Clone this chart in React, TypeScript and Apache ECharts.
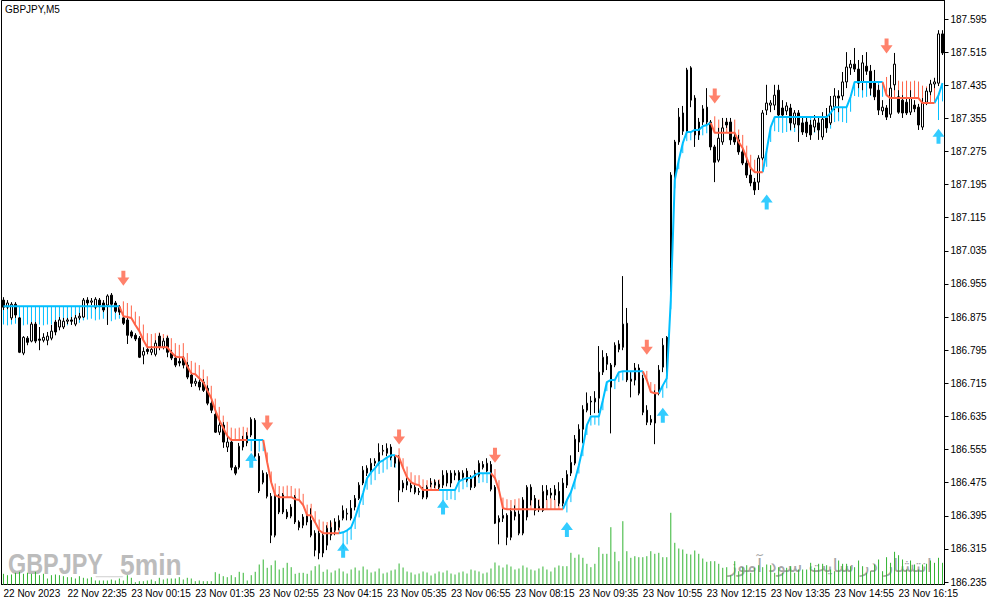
import React, { useEffect, useRef } from "react";
import * as echarts from "echarts";

// GBPJPY M5, 22 Nov 2023 21:15 .. 23 Nov 2023 ~16:50
const tickLabels = [
  "22 Nov 2023", "22 Nov 22:35", "23 Nov 00:15", "23 Nov 01:35", "23 Nov 02:55",
  "23 Nov 04:15", "23 Nov 05:35", "23 Nov 06:55", "23 Nov 08:15", "23 Nov 09:35",
  "23 Nov 10:55", "23 Nov 12:15", "23 Nov 13:35", "23 Nov 14:55", "23 Nov 16:15",
];

const priceTicks = [
  186.235, 186.315, 186.395, 186.475, 186.555, 186.635, 186.715, 186.795, 186.875,
  186.955, 187.035, 187.115, 187.195, 187.275, 187.355, 187.435, 187.515, 187.595,
];

const open = [
  186.916, 186.899, 186.873, 186.906, 186.873, 186.788, 186.824, 186.817, 186.858, 186.822,
  186.819, 186.819, 186.824, 186.863, 186.851, 186.851, 186.865, 186.868, 186.858, 186.873,
  186.875, 186.916, 186.911, 186.899, 186.916, 186.909, 186.904, 186.928, 186.909, 186.899,
  186.873, 186.868, 186.839, 186.831, 186.824, 186.783, 186.797, 186.790, 186.785, 186.829,
  186.802, 186.824, 186.788, 186.776, 186.768, 186.776, 186.759, 186.735, 186.715, 186.718,
  186.718, 186.703, 186.667, 186.640, 186.597, 186.614, 186.561, 186.573, 186.512, 186.512,
  186.561, 186.571, 186.590, 186.626, 186.539, 186.498, 186.495, 186.442, 186.348, 186.404,
  186.445, 186.404, 186.394, 186.440, 186.380, 186.372, 186.396, 186.384, 186.353, 186.353,
  186.305, 186.324, 186.348, 186.360, 186.367, 186.389, 186.399, 186.413, 186.416, 186.437,
  186.474, 186.498, 186.505, 186.522, 186.522, 186.551, 186.546, 186.561, 186.536, 186.536,
  186.462, 186.469, 186.469, 186.464, 186.454, 186.457, 186.440, 186.471, 186.476, 186.471,
  186.469, 186.498, 186.498, 186.498, 186.481, 186.488, 186.503, 186.488, 186.466, 186.493,
  186.519, 186.503, 186.519, 186.464, 186.380, 186.389, 186.396, 186.343, 186.404, 186.399,
  186.353, 186.392, 186.464, 186.437, 186.411, 186.408, 186.457, 186.450, 186.445, 186.454,
  186.425, 186.469, 186.498, 186.522, 186.573, 186.604, 186.650, 186.672, 186.670, 186.679,
  186.742, 186.780, 186.759, 186.759, 186.810, 186.802, 186.860, 186.725, 186.723, 186.752,
  186.727, 186.650, 186.628, 186.619, 186.691, 186.754, 186.826, 186.993, 187.213, 187.298,
  187.368, 187.322, 187.477, 187.404, 187.346, 187.346, 187.382, 187.346, 187.286, 187.254,
  187.298, 187.346, 187.346, 187.310, 187.303, 187.274, 187.247, 187.218, 187.201, 187.201,
  187.259, 187.375, 187.387, 187.387, 187.423, 187.380, 187.373, 187.380, 187.341, 187.368,
  187.344, 187.346, 187.339, 187.334, 187.344, 187.310, 187.356, 187.344, 187.382, 187.409,
  187.409, 187.443, 187.477, 187.486, 187.474, 187.443, 187.481, 187.469, 187.443, 187.423,
  187.373, 187.380, 187.365, 187.436, 187.407, 187.399, 187.394, 187.370, 187.387, 187.382,
  187.334, 187.394, 187.419, 187.438, 187.440, 187.559,
];

const high = [
  186.923, 186.916, 186.911, 186.911, 186.875, 186.829, 186.829, 186.863, 186.863, 186.851,
  186.836, 186.839, 186.856, 186.868, 186.875, 186.873, 186.873, 186.875, 186.880, 186.885,
  186.921, 186.923, 186.921, 186.923, 186.921, 186.916, 186.930, 186.933, 186.914, 186.904,
  186.877, 186.873, 186.843, 186.836, 186.829, 186.802, 186.805, 186.805, 186.819, 186.836,
  186.824, 186.829, 186.795, 186.783, 186.776, 186.780, 186.766, 186.742, 186.727, 186.725,
  186.725, 186.710, 186.674, 186.648, 186.626, 186.621, 186.585, 186.578, 186.517, 186.571,
  186.588, 186.597, 186.633, 186.631, 186.546, 186.505, 186.500, 186.450, 186.447, 186.447,
  186.450, 186.411, 186.423, 186.445, 186.384, 186.399, 186.404, 186.413, 186.360, 186.360,
  186.355, 186.372, 186.384, 186.389, 186.396, 186.420, 186.413, 186.433, 186.445, 186.476,
  186.515, 186.517, 186.534, 186.534, 186.570, 186.566, 186.570, 186.568, 186.541, 186.541,
  186.481, 186.486, 186.476, 186.471, 186.462, 186.464, 186.469, 186.486, 186.483, 186.481,
  186.505, 186.505, 186.505, 186.505, 186.505, 186.505, 186.510, 186.493, 186.505, 186.529,
  186.527, 186.534, 186.527, 186.469, 186.396, 186.413, 186.401, 186.413, 186.420, 186.408,
  186.440, 186.469, 186.471, 186.445, 186.433, 186.469, 186.469, 186.462, 186.469, 186.476,
  186.486, 186.505, 186.541, 186.590, 186.616, 186.662, 186.693, 186.684, 186.696, 186.805,
  186.795, 186.788, 186.764, 186.814, 186.819, 186.974, 186.897, 186.742, 186.764, 186.761,
  186.735, 186.662, 186.638, 186.698, 186.759, 186.824, 186.829, 187.225, 187.303, 187.380,
  187.385, 187.477, 187.481, 187.411, 187.356, 187.387, 187.428, 187.351, 187.291, 187.332,
  187.356, 187.356, 187.356, 187.322, 187.315, 187.283, 187.259, 187.235, 187.211, 187.266,
  187.375, 187.436, 187.399, 187.436, 187.436, 187.399, 187.394, 187.390, 187.375, 187.375,
  187.356, 187.356, 187.351, 187.363, 187.356, 187.370, 187.380, 187.409, 187.428, 187.423,
  187.467, 187.515, 187.496, 187.525, 187.496, 187.508, 187.515, 187.484, 187.472, 187.436,
  187.399, 187.387, 187.460, 187.513, 187.423, 187.411, 187.404, 187.423, 187.399, 187.390,
  187.404, 187.428, 187.448, 187.453, 187.568, 187.568,
];

const low = [
  186.892, 186.894, 186.868, 186.873, 186.788, 186.783, 186.807, 186.814, 186.812, 186.795,
  186.814, 186.807, 186.819, 186.831, 186.843, 186.846, 186.858, 186.856, 186.853, 186.868,
  186.873, 186.901, 186.904, 186.894, 186.899, 186.887, 186.856, 186.901, 186.885, 186.880,
  186.856, 186.810, 186.824, 186.817, 186.776, 186.761, 186.785, 186.783, 186.780, 186.795,
  186.797, 186.778, 186.771, 186.754, 186.756, 186.751, 186.725, 186.706, 186.708, 186.698,
  186.694, 186.662, 186.643, 186.595, 186.590, 186.559, 186.549, 186.505, 186.493, 186.507,
  186.553, 186.563, 186.585, 186.534, 186.450, 186.471, 186.437, 186.329, 186.343, 186.399,
  186.399, 186.387, 186.389, 186.375, 186.360, 186.365, 186.372, 186.343, 186.297, 186.290,
  186.295, 186.312, 186.336, 186.348, 186.360, 186.384, 186.384, 186.384, 186.408, 186.433,
  186.469, 186.491, 186.500, 186.515, 186.517, 186.541, 186.539, 186.529, 186.512, 186.428,
  186.452, 186.457, 186.452, 186.447, 186.445, 186.435, 186.435, 186.464, 186.462, 186.457,
  186.462, 186.466, 186.464, 186.481, 186.476, 186.483, 186.476, 186.457, 186.462, 186.488,
  186.507, 186.500, 186.454, 186.375, 186.326, 186.380, 186.324, 186.336, 186.384, 186.348,
  186.348, 186.384, 186.420, 186.396, 186.404, 186.404, 186.433, 186.437, 186.433, 186.418,
  186.418, 186.462, 186.491, 186.517, 186.549, 186.570, 186.645, 186.638, 186.643, 186.643,
  186.735, 186.747, 186.594, 186.754, 186.790, 186.795, 186.718, 186.681, 186.710, 186.686,
  186.638, 186.614, 186.614, 186.568, 186.686, 186.742, 186.730, 186.935, 187.206, 187.291,
  187.315, 187.317, 187.382, 187.286, 187.303, 187.339, 187.339, 187.278, 187.201, 187.249,
  187.291, 187.332, 187.291, 187.291, 187.267, 187.242, 187.211, 187.191, 187.170, 187.182,
  187.254, 187.363, 187.370, 187.375, 187.356, 187.356, 187.363, 187.327, 187.332, 187.298,
  187.315, 187.310, 187.303, 187.322, 187.303, 187.303, 187.320, 187.339, 187.375, 187.370,
  187.399, 187.428, 187.460, 187.467, 187.428, 187.423, 187.460, 187.411, 187.399, 187.363,
  187.363, 187.351, 187.356, 187.423, 187.366, 187.356, 187.363, 187.363, 187.370, 187.327,
  187.327, 187.387, 187.411, 187.428, 187.433, 187.508,
];

const close = [
  186.899, 186.909, 186.906, 186.880, 186.790, 186.826, 186.814, 186.858, 186.817, 186.819,
  186.826, 186.829, 186.841, 186.839, 186.868, 186.865, 186.868, 186.865, 186.873, 186.877,
  186.916, 186.909, 186.914, 186.918, 186.904, 186.892, 186.926, 186.906, 186.889, 186.887,
  186.860, 186.831, 186.829, 186.822, 186.778, 186.792, 186.792, 186.797, 186.812, 186.802,
  186.817, 186.790, 186.776, 186.759, 186.764, 186.759, 186.730, 186.715, 186.720, 186.706,
  186.698, 186.667, 186.650, 186.597, 186.614, 186.573, 186.573, 186.512, 186.498, 186.563,
  186.578, 186.588, 186.628, 186.539, 186.455, 186.476, 186.442, 186.348, 186.442, 186.442,
  186.404, 186.392, 186.416, 186.380, 186.367, 186.392, 186.380, 186.348, 186.312, 186.305,
  186.348, 186.365, 186.367, 186.380, 186.384, 186.408, 186.401, 186.389, 186.437, 186.469,
  186.505, 186.510, 186.522, 186.527, 186.548, 186.553, 186.558, 186.536, 186.522, 186.457,
  186.474, 186.478, 186.462, 186.452, 186.452, 186.440, 186.464, 186.474, 186.469, 186.464,
  186.493, 186.474, 186.474, 186.493, 186.500, 186.498, 186.481, 186.464, 186.498, 186.522,
  186.512, 186.522, 186.459, 186.377, 186.389, 186.396, 186.343, 186.406, 186.394, 186.353,
  186.433, 186.464, 186.433, 186.408, 186.418, 186.454, 186.445, 186.445, 186.459, 186.425,
  186.474, 186.495, 186.524, 186.580, 186.604, 186.652, 186.667, 186.670, 186.679, 186.742,
  186.778, 186.761, 186.706, 186.807, 186.797, 186.858, 186.723, 186.720, 186.752, 186.691,
  186.645, 186.621, 186.621, 186.691, 186.747, 186.807, 186.735, 187.218, 187.298, 187.358,
  187.324, 187.472, 187.399, 187.315, 187.315, 187.378, 187.346, 187.286, 187.249, 187.307,
  187.332, 187.339, 187.303, 187.298, 187.274, 187.247, 187.218, 187.199, 187.182, 187.259,
  187.368, 187.392, 187.392, 187.411, 187.363, 187.363, 187.385, 187.344, 187.368, 187.339,
  187.322, 187.320, 187.315, 187.351, 187.327, 187.353, 187.332, 187.385, 187.409, 187.404,
  187.443, 187.479, 187.486, 187.474, 187.440, 187.489, 187.469, 187.428, 187.407, 187.375,
  187.382, 187.358, 187.428, 187.486, 187.370, 187.368, 187.368, 187.404, 187.378, 187.339,
  187.392, 187.421, 187.438, 187.443, 187.559, 187.513,
];

// tick volume per bar
const volume = [
  107, 93, 100, 117, 127, 107, 117, 107, 127, 93,
  107, 60, 93, 100, 93, 83, 73, 73, 60, 83,
  67, 60, 73, 40, 40, 40, 40, 50, 40, 60,
  40, 93, 67, 23, 33, 33, 40, 50, 33, 67,
  50, 60, 60, 60, 73, 50, 67, 60, 33, 40,
  33, 33, 33, 123, 107, 83, 73, 93, 73, 127,
  117, 40, 93, 127, 200, 250, 167, 193, 240, 150,
  167, 217, 173, 107, 117, 117, 107, 140, 183, 200,
  127, 150, 120, 140, 160, 130, 110, 150, 170, 140,
  180, 150, 120, 130, 160, 110, 120, 140, 150, 210,
  170, 130, 120, 100, 110, 130, 120, 90, 110, 130,
  120, 140, 110, 100, 120, 130, 110, 150, 140, 130,
  110, 120, 160, 220, 190, 170, 200, 180, 150, 160,
  190, 170, 150, 140, 160, 180, 150, 130, 170, 190,
  183, 183, 317, 267, 300, 267, 207, 173, 207, 373,
  307, 307, 573, 327, 233, 633, 333, 267, 283, 273,
  273, 283, 333, 307, 317, 273, 273, 717, 417, 360,
  350, 307, 300, 340, 307, 260, 227, 233, 233, 207,
  167, 173, 93, 233, 133, 173, 193, 117, 167, 193,
  173, 200, 193, 117, 173, 117, 167, 183, 117, 150,
  150, 150, 217, 167, 207, 207, 193, 150, 133, 240,
  207, 207, 183, 173, 240, 183, 117, 133, 200, 250,
  133, 273, 217, 327, 293, 250, 150, 240, 200, 150,
  200, 207, 240, 217, 267, 217,
];

// trend indicator main buffer
const trend = [
  186.901, 186.901, 186.901, 186.901, 186.901, 186.901, 186.901, 186.901, 186.901, 186.901,
  186.901, 186.901, 186.901, 186.901, 186.901, 186.901, 186.901, 186.901, 186.901, 186.901,
  186.901, 186.901, 186.901, 186.901, 186.901, 186.901, 186.901, 186.901, 186.901, 186.901,
  186.877, 186.875, 186.873, 186.856, 186.841, 186.819, 186.802, 186.802, 186.802, 186.802,
  186.802, 186.802, 186.790, 186.780, 186.778, 186.778, 186.756, 186.739, 186.737, 186.727,
  186.718, 186.698, 186.679, 186.650, 186.626, 186.607, 186.588, 186.578, 186.578, 186.578,
  186.578, 186.578, 186.578, 186.578, 186.578, 186.578, 186.524, 186.476, 186.445, 186.440,
  186.440, 186.440, 186.440, 186.435, 186.433, 186.421, 186.396, 186.396, 186.379, 186.360,
  186.353, 186.353, 186.353, 186.353, 186.353, 186.355, 186.360, 186.367, 186.391, 186.421,
  186.450, 186.486, 186.500, 186.510, 186.524, 186.529, 186.536, 186.541, 186.541, 186.536,
  186.510, 186.488, 186.476, 186.471, 186.469, 186.457, 186.457, 186.457, 186.457, 186.457,
  186.457, 186.457, 186.457, 186.457, 186.478, 186.483, 186.486, 186.486, 186.493, 186.498,
  186.498, 186.498, 186.498, 186.486, 186.457, 186.413, 186.411, 186.411, 186.411, 186.411,
  186.411, 186.411, 186.411, 186.411, 186.411, 186.411, 186.411, 186.411, 186.411, 186.411,
  186.411, 186.433, 186.452, 186.481, 186.517, 186.561, 186.614, 186.635, 186.635, 186.635,
  186.674, 186.718, 186.723, 186.723, 186.742, 186.744, 186.744, 186.744, 186.744, 186.744,
  186.744, 186.723, 186.694, 186.691, 186.691, 186.710, 186.727, 186.916, 187.206, 187.254,
  187.295, 187.322, 187.322, 187.327, 187.327, 187.336, 187.339, 187.344, 187.320, 187.320,
  187.320, 187.320, 187.320, 187.320, 187.298, 187.283, 187.259, 187.235, 187.225, 187.225,
  187.225, 187.278, 187.334, 187.358, 187.358, 187.358, 187.358, 187.358, 187.358, 187.358,
  187.358, 187.358, 187.358, 187.358, 187.358, 187.358, 187.358, 187.368, 187.382, 187.382,
  187.382, 187.382, 187.407, 187.443, 187.443, 187.443, 187.443, 187.443, 187.443, 187.443,
  187.443, 187.411, 187.404, 187.404, 187.404, 187.404, 187.404, 187.404, 187.404, 187.404,
  187.392, 187.392, 187.392, 187.392, 187.411, 187.440,
];

// length of the thin side strokes of the indicator
const bandWidth = [
  0.044, 0.046, 0.044, 0.042, 0.044, 0.046, 0.044, 0.044, 0.042, 0.044,
  0.046, 0.044, 0.044, 0.042, 0.044, 0.044, 0.046, 0.044, 0.042, 0.040,
  0.034, 0.032, 0.030, 0.034, 0.032, 0.030, 0.034, 0.036, 0.032, 0.030,
  0.036, 0.034, 0.030, 0.032, 0.036, 0.038, 0.034, 0.032, 0.034, 0.036,
  0.032, 0.030, 0.034, 0.032, 0.030, 0.034, 0.032, 0.030, 0.028, 0.032,
  0.030, 0.034, 0.030, 0.028, 0.032, 0.030, 0.034, 0.030, 0.028, 0.030,
  0.032, 0.030, 0.027, 0.026, 0.028, 0.027, 0.024, 0.026, 0.028, 0.027,
  0.026, 0.028, 0.027, 0.026, 0.028, 0.027, 0.026, 0.028, 0.027, 0.026,
  0.028, 0.027, 0.026, 0.028, 0.027, 0.040, 0.034, 0.030, 0.028, 0.030,
  0.029, 0.028, 0.030, 0.029, 0.028, 0.030, 0.029, 0.028, 0.030, 0.022,
  0.024, 0.026, 0.024, 0.022, 0.024, 0.026, 0.024, 0.022, 0.024, 0.026,
  0.026, 0.024, 0.022, 0.024, 0.026, 0.024, 0.022, 0.024, 0.026, 0.024,
  0.022, 0.024, 0.026, 0.022, 0.024, 0.026, 0.024, 0.022, 0.024, 0.026,
  0.024, 0.022, 0.024, 0.026, 0.024, 0.022, 0.024, 0.026, 0.024, 0.022,
  0.024, 0.030, 0.024, 0.022, 0.020, 0.022, 0.024, 0.022, 0.020, 0.022,
  0.024, 0.022, 0.020, 0.022, 0.024, 0.022, 0.020, 0.022, 0.024, 0.022,
  0.020, 0.022, 0.024, 0.022, 0.024, 0.030, 0.024, 0.022, 0.020, 0.022,
  0.024, 0.022, 0.020, 0.022, 0.024, 0.022, 0.020, 0.022, 0.040, 0.032,
  0.030, 0.032, 0.030, 0.032, 0.030, 0.032, 0.030, 0.032, 0.030, 0.032,
  0.030, 0.040, 0.036, 0.034, 0.036, 0.038, 0.036, 0.034, 0.036, 0.038,
  0.036, 0.034, 0.036, 0.038, 0.036, 0.034, 0.036, 0.038, 0.036, 0.034,
  0.036, 0.038, 0.036, 0.034, 0.036, 0.038, 0.036, 0.034, 0.036, 0.038,
  0.036, 0.044, 0.042, 0.040, 0.042, 0.040, 0.042, 0.040, 0.042, 0.040,
  0.042, 0.040, 0.042, 0.040, 0.060, 0.044,
];

// [first bar, direction]  1 = up (blue), -1 = down (red)
const dirSegments = [
  [0, 1], [30, -1], [62, 1], [66, -1], [85, 1], [99, -1], [110, 1], [123, -1],
  [141, 1], [161, -1], [165, 1], [178, -1], [191, 1], [221, -1], [234, 1],
];

const sellArrowIdx = [30, 66, 99, 123, 161, 178, 221];
const sellArrowPrice = [186.969, 186.619, 186.585, 186.541, 186.802, 187.409, 187.530];
const buyArrowIdx = [62, 85, 110, 141, 165, 191, 234];
const buyArrowPrice = [186.529, 186.312, 186.416, 186.362, 186.638, 187.153, 187.312];

const BLUE = "#00bfff";
const RED = "#ff6347";
const VOL = "#32b432";
const FONT = '"Liberation Sans", Arial, sans-serif';
const MARK_FONT = 'bold 30px "Liberation Sans Narrow", "Liberation Sans", sans-serif';

const ARROW_DOWN = "path://M4 0 L8 0 L8 6 L12 6 L6 13 L0 6 L4 6 Z";
const ARROW_UP = "path://M6 0 L12 7 L8 7 L8 13 L4 13 L4 7 L0 7 Z";

function App() {
  const chartRef = useRef<HTMLDivElement>(null);

  useEffect(() => {
    const chart = echarts.init(chartRef.current as HTMLDivElement, undefined, { renderer: "svg" });
    const n = close.length;
    const categories = close.map((_, i) => String(i));

    const dir: number[] = [];
    for (let i = 0; i < n; i++) {
      let d = 1;
      for (const [s, v] of dirSegments) if (i >= s) d = v;
      dir.push(d);
    }
    const upLine = trend.map((v, i) => (dir[i] === 1 || dir[i + 1] === 1 ? v : null));
    const downLine = trend.map((v, i) => (dir[i] === -1 || dir[i + 1] === -1 ? v : null));
    const spikes = trend.map((v, i) => [i, v, v - dir[i] * bandWidth[i], dir[i]]);
    const candles = close.map((c, i) => [open[i], c, low[i], high[i]]);
    const vols = volume.map((v, i) => [i, v]);

    const option: echarts.EChartsOption = {
      animation: false,
      backgroundColor: "#ffffff",
      grid: {
        left: 1.5,
        top: 0.5,
        right: 46.5,
        bottom: 20.5,
        show: true,
        borderColor: "#000000",
        borderWidth: 1,
      },
      xAxis: {
        type: "category",
        data: categories,
        boundaryGap: true,
        axisLine: { lineStyle: { color: "#000000", width: 1 } },
        axisTick: {
          interval: (i: number) => i % 16 === 0,
          alignWithLabel: true,
          length: 5,
          lineStyle: { color: "#000000" },
        },
        axisLabel: {
          interval: (i: number) => i % 16 === 0,
          formatter: (_v: string, i: number) => tickLabels[i / 16] ?? "",
          align: "left",
          margin: 4,
          color: "#000000",
          fontSize: 10,
          fontFamily: FONT,
        },
        splitLine: { show: false },
      },
      yAxis: [
        {
          type: "value",
          position: "right",
          min: 186.229,
          max: 187.6397,
          axisLine: { show: true, lineStyle: { color: "#000000" } },
          axisTick: { show: true, length: 4, customValues: priceTicks, lineStyle: { color: "#000000" } },
          axisLabel: {
            customValues: priceTicks,
            formatter: (v: number) => v.toFixed(3),
            margin: 6,
            color: "#000000",
            fontSize: 10,
            fontFamily: FONT,
          },
          splitLine: { show: false },
        } as any,
        { type: "value", min: 0, max: 5840, show: false },
      ],
      graphic: [
        {
          type: "text",
          x: 5,
          y: 9,
          z: 10,
          style: { text: "GBPJPY,M5", fill: "#000000", font: `10px ${FONT}`, verticalAlign: "middle" },
        },
        {
          type: "text",
          x: 8,
          y: 564,
          scaleX: 0.78,
          z: 0,
          style: { text: "GBPJPY", fill: "#bcbcbc", font: MARK_FONT, verticalAlign: "middle" },
        },
        {
          type: "text",
          x: 96,
          y: 564,
          scaleX: 0.8,
          z: 0,
          style: { text: "__", fill: "#dadada", font: MARK_FONT, verticalAlign: "middle" },
        },
        {
          type: "text",
          x: 120,
          y: 564,
          scaleX: 0.88,
          z: 0,
          style: { text: "5min", fill: "#bcbcbc", font: MARK_FONT, verticalAlign: "middle" },
        },
        {
          type: "text",
          x: 830,
          y: 565,
          z: 0,
          style: {
            text: "انتشار در سایت سود آموز",
            fill: "#a6a6a6",
            font: '19px "DejaVu Sans", sans-serif',
            align: "center",
            verticalAlign: "middle",
          },
        },
      ],
      series: [
        {
          name: "Volume",
          type: "custom",
          yAxisIndex: 1,
          silent: true,
          z: 1,
          data: vols,
          renderItem: (_p: any, api: any) => {
            const a = api.coord([api.value(0), 0]);
            const b = api.coord([api.value(0), api.value(1)]);
            return {
              type: "line",
              shape: { x1: a[0], y1: a[1], x2: b[0], y2: b[1] },
              style: { stroke: VOL, lineWidth: 1 },
            };
          },
        } as any,
        {
          name: "Bands",
          type: "custom",
          silent: true,
          z: 2,
          data: spikes,
          renderItem: (_p: any, api: any) => {
            const a = api.coord([api.value(0), api.value(1)]);
            const b = api.coord([api.value(0), api.value(2)]);
            return {
              type: "line",
              shape: { x1: a[0], y1: a[1], x2: b[0], y2: b[1] },
              style: { stroke: api.value(3) > 0 ? BLUE : RED, lineWidth: 1 },
            };
          },
        } as any,
        {
          name: "GBPJPY",
          type: "candlestick",
          data: candles,
          barWidth: 2,
          z: 3,
          itemStyle: {
            color: "#ffffff",
            color0: "#000000",
            borderColor: "#000000",
            borderColor0: "#000000",
            borderWidth: 1,
          },
        },
        {
          name: "Up",
          type: "line",
          data: upLine,
          symbol: "none",
          z: 4,
          lineStyle: { color: BLUE, width: 2 },
        },
        {
          name: "Down",
          type: "line",
          data: downLine,
          symbol: "none",
          z: 4,
          lineStyle: { color: RED, width: 2 },
        },
        {
          name: "Sell",
          type: "scatter",
          symbol: ARROW_DOWN,
          symbolSize: [12, 15],
          z: 5,
          itemStyle: { color: RED },
          data: sellArrowIdx.map((i, k) => [i, sellArrowPrice[k]]),
        },
        {
          name: "Buy",
          type: "scatter",
          symbol: ARROW_UP,
          symbolSize: [12, 15],
          z: 5,
          itemStyle: { color: BLUE },
          data: buyArrowIdx.map((i, k) => [i, buyArrowPrice[k]]),
        },
      ],
    };

    chart.setOption(option);
    return () => {
      chart.dispose();
    };
  }, []);

  return (
    <div
      ref={chartRef}
      style={{ position: "absolute", left: 0, top: 0, width: "991px", height: "605px" }}
    />
  );
}

export default App;
